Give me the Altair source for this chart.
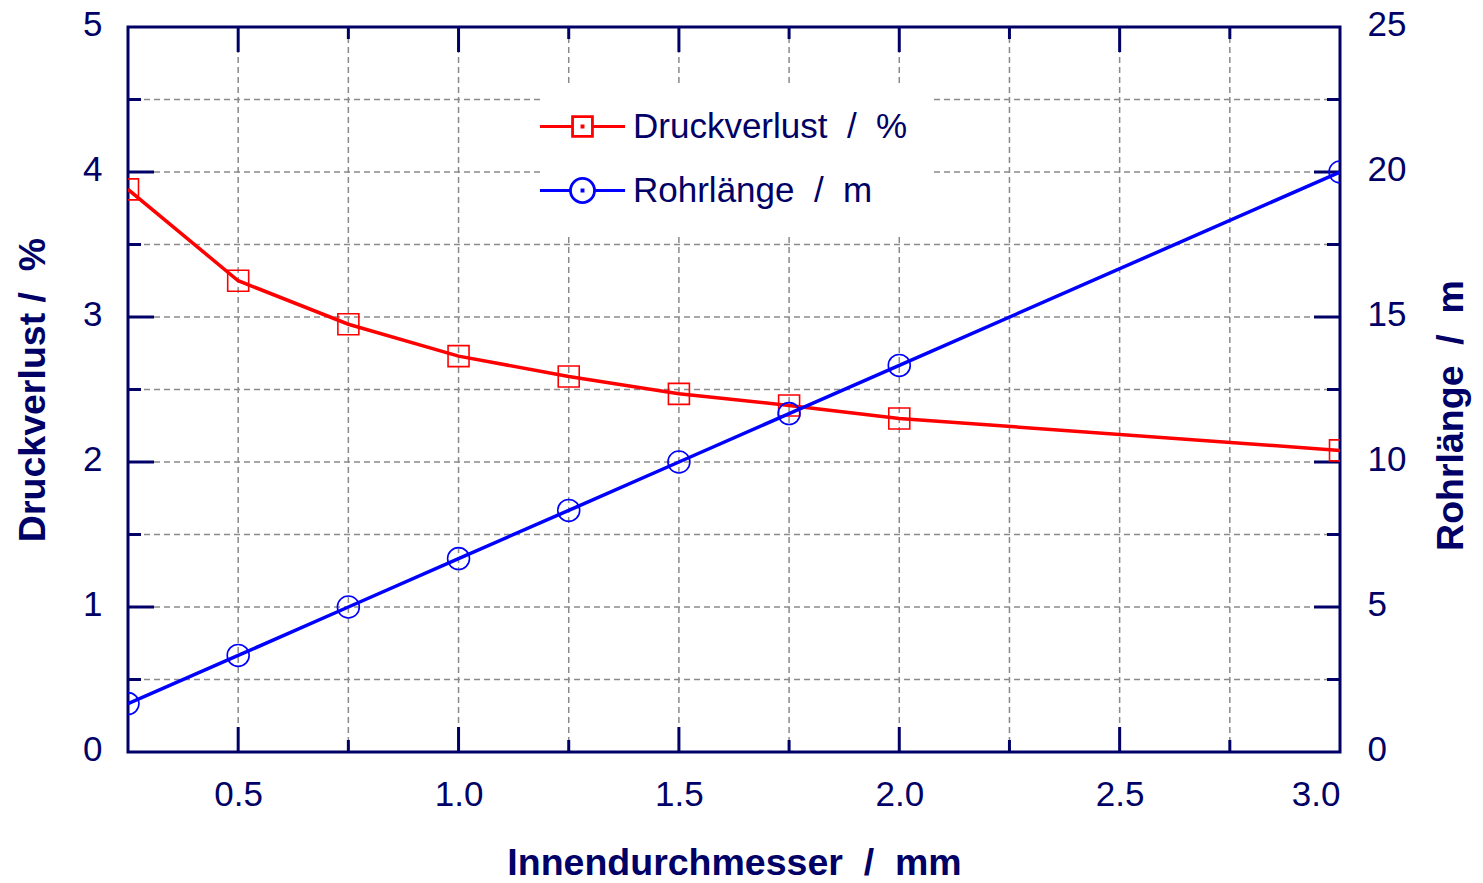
import altair as alt
import pandas as pd

# ---- data ----
diam = [0.25, 0.5, 0.75, 1.0, 1.25, 1.5, 1.75, 2.0, 3.0]
druck = [3.88, 3.25, 2.95, 2.73, 2.59, 2.47, 2.39, 2.30, 2.08]
rohr = [1.67, 3.33, 5.0, 6.67, 8.33, 10.0, 11.67, 13.33, 20.0]

x_major = [0.5, 1.0, 1.5, 2.0, 2.5]
x_minor = [0.75, 1.25, 1.75, 2.25, 2.75]
y_major = [1, 2, 3, 4]
y_minor = [0.5, 1.5, 2.5, 3.5, 4.5]
x_labels = [0.5, 1.0, 1.5, 2.0, 2.5, 3.0]
yl_labels = [0, 1, 2, 3, 4, 5]
yr_labels = [0, 5, 10, 15, 20, 25]

series = ["Druckverlust\u00a0\u00a0/\u00a0\u00a0%", "Rohrlänge\u00a0\u00a0/\u00a0\u00a0m"]
x_title = "Innendurchmesser\u00a0\u00a0/\u00a0\u00a0mm"
yl_title = "Druckverlust /\u00a0\u00a0%"
yr_title = "Rohrlänge\u00a0\u00a0/\u00a0\u00a0m"

# ---- styling ----
W, H = 1212, 725
NAVY = "#000066"
RED = "#ff0000"
BLUE = "#0000ff"
GRID = "#8a8a8a"
FONT = "Liberation Sans"
TFS = 37.5

df = pd.DataFrame({"d": diam, "p": druck, "l": rohr})
gx = pd.DataFrame({"d": x_major + x_minor})
gy = pd.DataFrame({"p": y_major + y_minor})
txM = pd.DataFrame({"d": x_major})
txm = pd.DataFrame({"d": x_minor})
tyM = pd.DataFrame({"p": y_major})
tym = pd.DataFrame({"p": y_minor})
leg = pd.DataFrame({"s": series, "d": [diam[0], diam[0]], "p": [druck[0], druck[0]]})

xs = alt.Scale(domain=[0.25, 3.0], nice=False, zero=False)
yls = alt.Scale(domain=[0, 5], nice=False)
yrs = alt.Scale(domain=[0, 25], nice=False)

x_axis = alt.Axis(values=x_labels, format=".1f", ticks=False, domain=False, grid=False,
                  labelFont=FONT, labelFontSize=35, labelColor=NAVY, labelPadding=25,
                  title=x_title, titleFont=FONT, titleFontSize=TFS, titleFontWeight="bold",
                  titleColor=NAVY, titlePadding=32)
yl_axis = alt.Axis(values=yl_labels, format="d", ticks=False, domain=False, grid=False,
                   labelFont=FONT, labelFontSize=35, labelColor=NAVY, labelPadding=26,
                   labelOffset=-3,
                   title=yl_title, titleFont=FONT, titleFontSize=TFS, titleFontWeight="bold",
                   titleColor=NAVY, titlePadding=30)
yr_axis = alt.Axis(values=yr_labels, format="d", ticks=False, domain=False, grid=False,
                   orient="right", labelFont=FONT, labelFontSize=35, labelColor=NAVY,
                   labelPadding=27, labelOffset=-3,
                   title=yr_title, titleFont=FONT, titleFontSize=TFS,
                   titleFontWeight="bold", titleColor=NAVY,
                   titleAngle=270, titleX=111, titleY=388, titleBaseline="middle",
                   titleAlign="center")

X = alt.X("d:Q", scale=xs, axis=x_axis, title=x_title)
YL = alt.Y("p:Q", scale=yls, axis=yl_axis, title=yl_title)
YR = alt.Y("l:Q", scale=yrs, axis=yr_axis, title=yr_title)

# grid
vgrid = alt.Chart(gx).mark_rule(color=GRID, strokeWidth=1.5, strokeDash=[6, 4]).encode(x=X)
hgrid = alt.Chart(gy).mark_rule(color=GRID, strokeWidth=1.5, strokeDash=[6, 4]).encode(y=YL)

# inward ticks
def xticks(d, ln):
    b = alt.Chart(d).mark_rule(color=NAVY, strokeWidth=3).encode(
        x=X, y=alt.value(H), y2=alt.value(H - ln))
    t = alt.Chart(d).mark_rule(color=NAVY, strokeWidth=3).encode(
        x=X, y=alt.value(0), y2=alt.value(ln))
    return [b, t]

def yticks(d, ln):
    l = alt.Chart(d).mark_rule(color=NAVY, strokeWidth=3).encode(
        y=YL, x=alt.value(0), x2=alt.value(ln))
    r = alt.Chart(d).mark_rule(color=NAVY, strokeWidth=3).encode(
        y=YL, x=alt.value(W), x2=alt.value(W - ln))
    return [l, r]

ticks = xticks(txM, 25) + xticks(txm, 12) + yticks(tyM, 26) + yticks(tym, 13)

# red series (left axis)
red_line = alt.Chart(df).mark_line(color=RED, strokeWidth=3.5, clip=True).encode(x=X, y=YL)
red_pts = alt.Chart(df).mark_point(shape="square", size=440, filled=False, color=RED,
                                   strokeWidth=1.6, opacity=1, clip=True).encode(x=X, y=YL)
red_dot = alt.Chart(df).mark_point(shape="square", size=4, filled=True, color=RED,
                                   opacity=1, clip=True).encode(x=X, y=YL)

# legend carrier (invisible points)
sq_path = ("M-3.04,0H-0.71M-0.71,-0.71H0.71V0.71H-0.71ZM0.71,0H3.04"
           "M-0.04,-0.04H0.04V0.04H-0.04Z")
ci_path = ("M-3.04,0H-0.86M-0.86,0A0.86,0.86,0,1,0,0.86,0A0.86,0.86,0,1,0,-0.86,0"
           "M0.86,0H3.04M-0.04,-0.04H0.04V0.04H-0.04Z")
legend = alt.Legend(title=None, orient="none", legendX=412, legendY=57, fillColor="white",
                    padding=25, labelFont=FONT, labelFontSize=35, labelColor=NAVY,
                    labelOffset=33, labelLimit=600, symbolStrokeWidth=2.8, symbolSize=784,
                    symbolOpacity=1, rowPadding=27)
leg_layer = alt.Chart(leg).mark_point(opacity=0, filled=False, size=784, strokeWidth=2.8).encode(
    x=X, y=YL,
    color=alt.Color("s:N", scale=alt.Scale(domain=series, range=[RED, BLUE]), legend=legend),
    shape=alt.Shape("s:N", scale=alt.Scale(domain=series, range=[sq_path, ci_path]), legend=legend),
)

left = alt.layer(vgrid, hgrid, *ticks, red_line, red_pts, red_dot, leg_layer)

# blue series (right axis)
blue_line = alt.Chart(df).mark_line(color=BLUE, strokeWidth=3.5, clip=True).encode(x=X, y=YR)
blue_pts = alt.Chart(df).mark_point(shape="circle", size=480, filled=False, color=BLUE,
                                    strokeWidth=1.6, opacity=1, clip=True).encode(x=X, y=YR)
blue_dot = alt.Chart(df).mark_point(shape="square", size=4, filled=True, color=BLUE,
                                    opacity=1, clip=True).encode(x=X, y=YR)
right = alt.layer(blue_line, blue_pts, blue_dot)

chart = alt.layer(left, right).resolve_scale(y="independent").properties(
    width=W, height=H,
    padding={"left": 128, "top": 27, "right": 143, "bottom": 131},
    autosize=alt.AutoSizeParams(type="none"),
    background="white",
).configure_view(stroke=NAVY, strokeWidth=3)

chart.save("out.html", embed_options={"renderer": "svg", "actions": False})
